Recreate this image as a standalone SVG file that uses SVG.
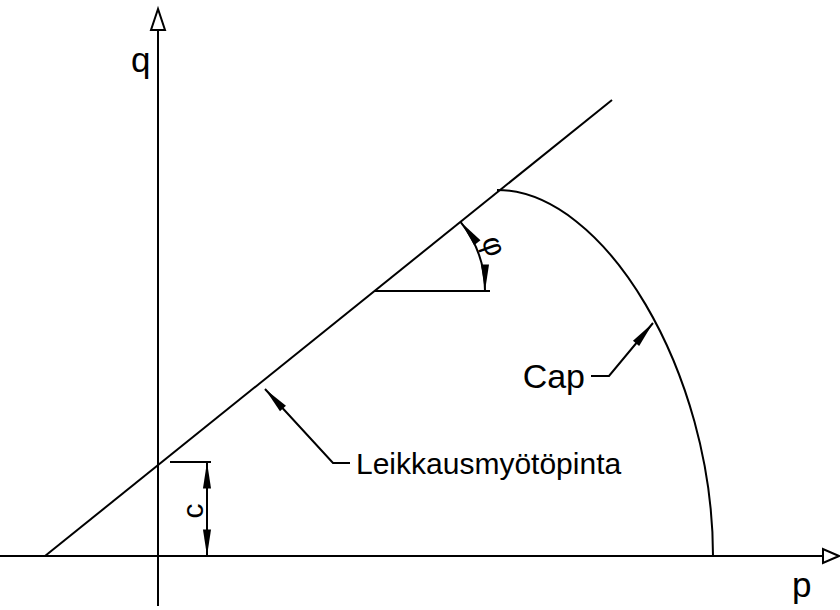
<svg xmlns="http://www.w3.org/2000/svg" width="840" height="610" viewBox="0 0 840 610">
<style>
.ln{stroke:#000;stroke-width:2;fill:none}
.ax{stroke:#000;stroke-width:2;fill:#fff}
.tx{font-family:"Liberation Sans",Arial,sans-serif;fill:#000}
</style>
<defs>
<marker id="ar" markerUnits="userSpaceOnUse" markerWidth="30" markerHeight="12" viewBox="-24 -5 26 10" refX="0" refY="0" orient="auto-start-reverse">
<path d="M0,0 L-23,-3.5 L-23,3.5 Z" fill="#000"/>
</marker>
</defs>
<rect width="840" height="610" fill="#fff"/>
<g id="axes">
<line class="ln" x1="158" y1="30" x2="158" y2="606"/>
<polygon class="ax" points="158,9 151,30 165,30"/>
<line class="ln" x1="0" y1="556" x2="823" y2="556"/>
<polygon class="ax" points="839,556 823,549 823,563"/>
<text class="tx" x="131" y="72" font-size="35">q</text>
<text class="tx" x="792" y="597" font-size="35">p</text>
</g>
<g id="shear-line">
<line class="ln" x1="45" y1="556" x2="612" y2="100"/>
</g>
<g id="cap-curve">
<path class="ln" d="M497,190 C605,190 713,373 713,556"/>
</g>
<g id="connectors">
<line class="ln" x1="375" y1="291" x2="490" y2="291"/>
<path class="ln" d="M460.7,222.1 A110,110 0 0 1 485,291" marker-start="url(#ar)" marker-end="url(#ar)"/>
<line class="ln" x1="170" y1="462" x2="211" y2="462"/>
<line class="ln" x1="207" y1="462" x2="207" y2="556" marker-start="url(#ar)" marker-end="url(#ar)"/>
<polyline class="ln" points="350,463 333,463 265,389" marker-end="url(#ar)"/>
<polyline class="ln" points="591,376 609,376 653,323" marker-end="url(#ar)"/>
</g>
<g id="phi-label">
<text class="tx" font-size="30" text-anchor="middle" transform="translate(494,246) rotate(70)" dy="10">φ</text>
</g>
<g id="c-label">
<text class="tx" font-size="30" text-anchor="middle" transform="translate(203,511) rotate(-90)">c</text>
</g>
<g id="cap-label">
<text class="tx" x="585" y="388" font-size="34" text-anchor="end">Cap</text>
</g>
<g id="leikkaus-label">
<text class="tx" x="356" y="474" font-size="30">Leikkausmyötöpinta</text>
</g>
</svg>
